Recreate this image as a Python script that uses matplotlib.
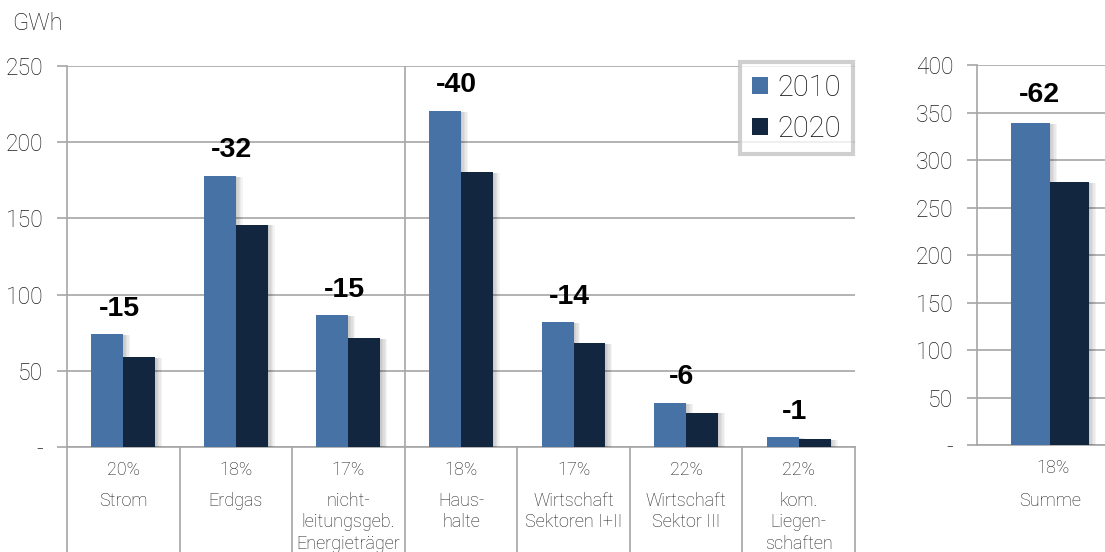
import numpy as np
import matplotlib
matplotlib.use("Agg")
import matplotlib.pyplot as plt
import matplotlib.patheffects as pe
from matplotlib.ticker import FuncFormatter

plt.rcParams['font.family'] = ['Roboto', 'DejaVu Sans']

# Endenergie nach Energieträger und Sektor, GWh
kategorien = ["Strom", "Erdgas", "nicht-\nleitungsgeb.\nEnergieträger",
              "Haus-\nhalte", "Wirtschaft\nSektoren I+II", "Wirtschaft\nSektor III",
              "kom.\nLiegen-\nschaften"]
werte_2010 = [74, 178, 86.5, 220.5, 82, 29, 6.4]
werte_2020 = [59, 146, 71.5, 180.5, 68, 22.6, 5.0]

# Summe über die Energieträger (Strom, Erdgas, nicht leitungsgeb.)
summe_2010 = sum(werte_2010[:3])
summe_2020 = sum(werte_2020[:3])

jahre = ["2010", "2020"]
farben = ["#4672a6", "#13263f"]
grau = "#a6a6a6"
textfarbe = "#1e1e1e"
fett = ["Liberation Sans", "DejaVu Sans"]


def schatten():
    # weicher Schlagschatten rechts neben den Balken
    return [pe.SimplePatchShadow(offset=(k, -0.6), shadow_rgbFace="#000000", alpha=0.045)
            for k in range(1, 6)] + [pe.Normal()]


def null_als_strich(v, pos):
    return "-" if v == 0 else f"{v:.0f}"


def achse_stylen(ax, ymax, step):
    ax.set_ylim(0, ymax)
    ax.set_yticks(np.arange(0, ymax + 1, step))
    ax.yaxis.set_major_formatter(FuncFormatter(null_als_strich))
    ax.yaxis.grid(True, color=grau, lw=1.2)
    ax.set_axisbelow(True)
    for s in ["top", "right"]:
        ax.spines[s].set_visible(False)
    for s in ["left", "bottom"]:
        ax.spines[s].set_color(grau)
        ax.spines[s].set_linewidth(1.2)
    ax.tick_params(axis="y", length=7, width=1.2, color=grau, labelsize=16.5,
                   labelcolor=textfarbe, pad=10)
    ax.tick_params(axis="x", length=0, labelbottom=False)
    for lbl in ax.get_yticklabels():
        lbl.set_fontweight("light")


fig = plt.figure(figsize=(11.05, 5.52), dpi=100)
ax = fig.add_axes([0.0606, 0.1902, 0.7131, 0.6902])
ax2 = fig.add_axes([0.8842, 0.1938, 0.1158, 0.6884])

# linkes Diagramm: einzelne Kategorien
x = np.arange(len(kategorien))
w = 0.284
b1 = ax.bar(x - w / 2, werte_2010, w, color=farben[0], label=jahre[0], zorder=3)
b2 = ax.bar(x + w / 2, werte_2020, w, color=farben[1], label=jahre[1], zorder=3)
for r in list(b1) + list(b2):
    r.set_path_effects(schatten())
ax.set_xlim(-0.5, len(kategorien) - 0.5)
achse_stylen(ax, 250, 50)
ax.set_xticks([])

# Trennlinie zwischen Energieträgern und Sektoren
ax.axvline(2.5, color=grau, lw=1.2, zorder=2)

# Trennlinien unter der Achse
trans = ax.get_xaxis_transform()
for g in np.arange(-0.5, len(kategorien), 1.0):
    ax.plot([g, g], [0, -0.3], color=grau, lw=1.2, transform=trans, clip_on=False)

for i, (a, b) in enumerate(zip(werte_2010, werte_2020)):
    diff = b - a
    ax.annotate(f"{diff:.0f}", (i, a), xytext=(-3, 9), textcoords="offset points",
                ha="center", va="bottom", fontsize=20.5, fontweight="bold",
                family=fett, color="black")
    ax.text(i, -0.06, f"{-diff / a * 100:.0f}%", transform=trans, ha="center",
            va="center", fontsize=13, fontweight="light", color=textfarbe)
    ax.text(i, -0.118, kategorien[i], transform=trans, ha="center", va="top",
            fontsize=13, fontweight="light", color=textfarbe, linespacing=1.25)

# rechtes Diagramm: Summe
ws = 0.305
mitte = 0.035
s1 = ax2.bar(mitte - ws / 2, summe_2010, ws, color=farben[0], zorder=3)
s2 = ax2.bar(mitte + ws / 2, summe_2020, ws, color=farben[1], zorder=3)
for r in list(s1) + list(s2):
    r.set_path_effects(schatten())
ax2.set_xlim(-0.535, 0.465)
achse_stylen(ax2, 400, 50)
ax2.set_xticks([])
trans2 = ax2.get_xaxis_transform()
ax2.annotate(f"{summe_2020 - summe_2010:.0f}", (mitte - 0.08, summe_2010), xytext=(0, 11),
             textcoords="offset points", ha="center", va="bottom", fontsize=20.5,
             fontweight="bold", family=fett, color="black")
ax2.text(mitte + 0.02, -0.06, f"{(summe_2010 - summe_2020) / summe_2010 * 100:.0f}%",
         transform=trans2, ha="center", va="center", fontsize=13,
         fontweight="light", color=textfarbe)
ax2.text(mitte, -0.148, "Summe", transform=trans2, ha="center", va="center",
         fontsize=13, fontweight="light", color=textfarbe)

fig.text(12 / 1105, 1 - 24 / 552, "GWh", ha="left", va="center", fontsize=17,
         fontweight="light", color=textfarbe)

leg = ax.legend(handles=[b1, b2], loc="upper right",
                bbox_to_anchor=(853 / 1105, 1 - 62 / 552), bbox_transform=fig.transFigure,
                fontsize=21, frameon=True, fancybox=False, handlelength=0.55,
                handleheight=0.55, handletextpad=0.35, labelspacing=0.45,
                borderpad=0.4, borderaxespad=0)
leg.get_frame().set_edgecolor("#c3c3c3")
leg.get_frame().set_linewidth(3)
for t in leg.get_texts():
    t.set_fontweight("light")
    t.set_color("#111111")
for h in leg.legend_handles:
    h.set_path_effects([])

fig.savefig("out.png", dpi=100)
